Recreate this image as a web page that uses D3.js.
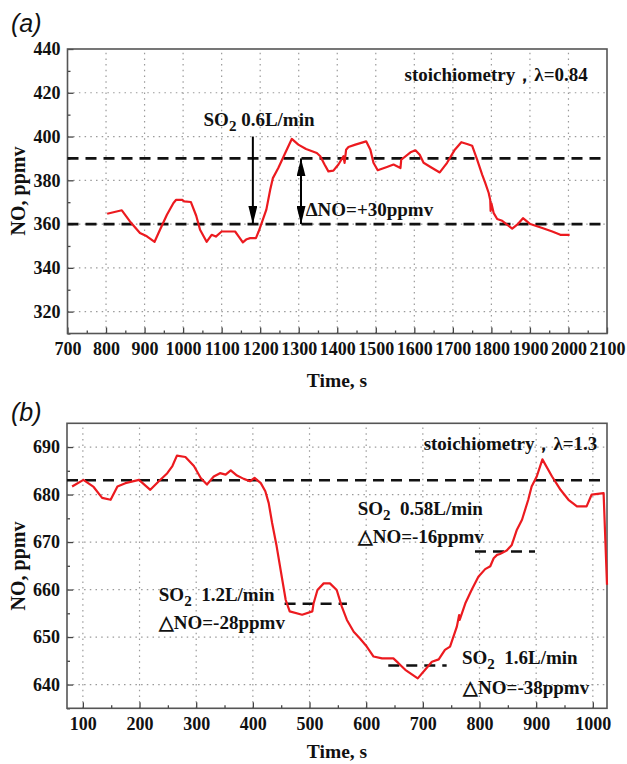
<!DOCTYPE html>
<html>
<head>
<meta charset="utf-8">
<script src="https://cdn.jsdelivr.net/npm/d3@7"></script>
<style>
  body { margin: 0; background: #fff; }
  svg text { font-family: "Liberation Serif", "Times New Roman", serif; font-weight: bold; fill: #111; }
</style>
</head>
<body>
<div id="chart"></div>
<script>
// panel (a): stoichiometry 0.84, SO2 0.6 L/min
const timeA = [803, 841, 862, 888, 906, 926, 940, 958, 975, 982, 997, 1003, 1020, 1034, 1044, 1061, 1074, 1085, 1100, 1135,
  1144, 1155, 1165, 1174, 1189, 1196, 1204, 1216, 1226, 1233, 1247, 1265, 1282, 1299, 1319, 1347, 1356, 1367, 1377, 1390,
  1403, 1416, 1419, 1423, 1429, 1447, 1475, 1486, 1494, 1505, 1529, 1546, 1564, 1566, 1590, 1603, 1614, 1624, 1642, 1666,
  1685, 1704, 1722, 1737, 1750, 1763, 1776, 1784, 1793, 1797, 1798, 1800, 1806, 1815, 1828, 1854, 1867, 1882, 1901, 1932,
  1958, 1979, 2003];
const noA = [364.7, 366.3, 361.2, 355.9, 354.4, 351.9, 357.4, 364.3, 369.6, 371.1, 371.1, 370.4, 370.1, 363.8, 357.4, 351.9, 355.1, 354.3, 356.6, 356.6,
  354.4, 351.6, 353.1, 353.6, 353.6, 356.6, 360.5, 366.6, 375.7, 381, 385.6, 392.5, 398.9, 396.3, 394.3, 392.5, 391, 387.2, 384.1, 384.4,
  387.2, 391, 388, 394, 395.2, 396.3, 397.8, 394, 388, 384.6, 386.1, 387.2, 385.6, 389.4, 392.8, 393.7, 391.7, 388, 386.1, 383.6,
  388, 393.7, 397.4, 396.6, 395.8, 389.4, 382.6, 378.8, 374.2, 371, 366, 369.5, 365, 362.3, 361.5, 357.9, 359.7, 362.7, 360, 358.2,
  356.6, 355.1, 355.1];

// panel (b): stoichiometry 1.3, three SO2 flows
const timeB = [81, 101, 119, 134, 149, 161, 175, 199, 219, 234, 249, 258, 266, 281, 296, 308, 319, 331, 342, 352,
  361, 372, 384, 395, 403, 414, 422, 428, 434, 442, 452, 458, 465, 487, 505, 507, 514, 525, 536, 548,
  557, 566, 578, 589, 601, 613, 628, 648, 657, 669, 691, 704, 716, 728, 739, 748, 760, 764, 765, 775,
  786, 798, 810, 819, 825, 831, 836, 848, 857, 866, 875, 886, 892, 901, 911, 928, 943, 957, 972, 989,
  998, 1019, 1025];
const noB = [681.7, 683.1, 681.6, 679.3, 678.9, 681.7, 682.4, 683.1, 681, 682.8, 684.5, 686, 688.2, 687.9, 686, 683.5, 682.1, 683.8, 684.5, 684.2,
  685.1, 684, 683.3, 682.8, 683.5, 682.4, 680.7, 678.2, 674, 669.1, 662, 657.8, 655.4, 654.7, 655.4, 657, 659.9, 661.3, 661.3, 659.9,
  656.4, 653.6, 651.1, 649.7, 648, 645.9, 645.5, 645.5, 644.5, 643.1, 641.3, 643.1, 644.8, 645.3, 647.3, 648, 652.2, 654.6, 653.6, 657.1,
  659.9, 662.7, 664.3, 664.9, 666.6, 667.3, 667.5, 668.2, 669.4, 672.6, 674.7, 678.9, 681.7, 683.8, 687.4, 683.8, 681, 678.9, 677.5, 677.5,
  680, 680.3, 661];

const xTicksA = d3.range(700, 2101, 100);
const yTicksA = [320, 340, 360, 380, 400, 420, 440];
const xTicksB = d3.range(100, 1001, 100);
const yTicksB = [640, 650, 660, 670, 680, 690];

// reference levels
const levelsA = [390, 360];
const levelsB = [683];
const segmentsB = [
  { v: 657, t0: 456, t1: 566 },
  { v: 644, t0: 639, t1: 742 },
  { v: 668, t0: 792, t1: 898 }
];

const width = 627, height = 764;
const svg = d3.select("#chart").append("svg")
  .attr("width", width).attr("height", height);

svg.append("defs").append("marker")
  .attr("id", "head")
  .attr("viewBox", "0 0 18 9")
  .attr("refX", 18).attr("refY", 4.5)
  .attr("markerWidth", 18).attr("markerHeight", 9)
  .attr("markerUnits", "userSpaceOnUse")
  .attr("orient", "auto-start-reverse")
  .append("path").attr("d", "M0,0L18,4.5L0,9Z").attr("fill", "#000");

function panel(x, y, xTicks, yTicks, xMinor, yMinor) {
  const g = svg.append("g");
  const [x0, x1] = x.range(), [y0, y1] = y.range();

  // dotted grid
  g.append("g").selectAll("line")
    .data(xTicks.filter(d => x(d) > x0 + 1 && x(d) < x1 - 1))
    .join("line")
    .attr("x1", d => x(d)).attr("x2", d => x(d))
    .attr("y1", y0).attr("y2", y1)
    .attr("stroke", "#9a9a9a").attr("stroke-width", 1.2).attr("stroke-dasharray", "1.5,4.2");
  g.append("g").selectAll("line")
    .data(yTicks.filter(d => y(d) < y0 - 1 && y(d) > y1 + 1))
    .join("line")
    .attr("y1", d => y(d)).attr("y2", d => y(d))
    .attr("x1", x0).attr("x2", x1)
    .attr("stroke", "#9a9a9a").attr("stroke-width", 1.2).attr("stroke-dasharray", "1.5,4.2");

  g.append("g").attr("transform", `translate(0,${y0})`)
    .call(d3.axisBottom(x).tickValues(xTicks).tickSize(-6).tickPadding(9).tickFormat(d3.format("d")));
  g.append("g").attr("transform", `translate(0,${y0})`)
    .call(d3.axisBottom(x).tickValues(xMinor).tickSize(-3).tickFormat(""));
  g.append("g").attr("transform", `translate(${x0},0)`)
    .call(d3.axisLeft(y).tickValues(yTicks).tickSize(-6).tickPadding(7).tickFormat(d3.format("d")));
  g.append("g").attr("transform", `translate(${x0},0)`)
    .call(d3.axisLeft(y).tickValues(yMinor).tickSize(-3).tickFormat(""));

  g.selectAll(".domain").remove();
  g.selectAll(".tick line").attr("stroke", "#444").attr("stroke-width", 1.3);
  g.selectAll(".tick text").attr("font-size", 18).attr("fill", "#111")
    .attr("font-family", "Liberation Serif, Times New Roman, serif").attr("font-weight", "bold");

  g.append("rect")
    .attr("x", x0).attr("y", y1)
    .attr("width", x1 - x0).attr("height", y0 - y1)
    .attr("fill", "none").attr("stroke", "#555").attr("stroke-width", 1.6);
  return g;
}

function dashed(g, x, y, v, t0, t1) {
  g.append("line")
    .attr("x1", x(t0)).attr("x2", x(t1))
    .attr("y1", y(v)).attr("y2", y(v))
    .attr("stroke", "#111").attr("stroke-width", 2.6).attr("stroke-dasharray", "11,7");
}

function so2(g, px, py, rate) {
  const t = g.append("text").attr("x", px).attr("y", py).attr("font-size", 19);
  t.append("tspan").text("SO");
  t.append("tspan").attr("dy", 5).attr("font-size", 15).text("2");
  t.append("tspan").attr("dy", -5).text("\u00a0" + rate);
}

function line(g, x, y, ts, vs) {
  g.append("path")
    .datum(ts.map((t, i) => [t, vs[i]]))
    .attr("fill", "none").attr("stroke", "#ec1a1f").attr("stroke-width", 2.2)
    .attr("stroke-linejoin", "round")
    .attr("d", d3.line().x(d => x(d[0])).y(d => y(d[1])));
}

// ---------- (a)
const xA = d3.scaleLinear([700, 2100], [67.5, 607]);
const yA = d3.scaleLinear([310, 440], [333.5, 49]);
const gA = panel(xA, yA, xTicksA, yTicksA, d3.range(750, 2100, 100), d3.range(310, 440, 20));

levelsA.forEach(v => dashed(gA, xA, yA, v, 700, 2100));
line(gA, xA, yA, timeA, noA);

gA.append("line")
  .attr("x1", xA(1181)).attr("x2", xA(1181))
  .attr("y1", yA(400)).attr("y2", yA(360))
  .attr("stroke", "#000").attr("stroke-width", 2)
  .attr("marker-end", "url(#head)");
gA.append("line")
  .attr("x1", xA(1306)).attr("x2", xA(1306))
  .attr("y1", yA(390)).attr("y2", yA(360))
  .attr("stroke", "#000").attr("stroke-width", 2)
  .attr("marker-start", "url(#head)").attr("marker-end", "url(#head)");

gA.append("text").attr("x", xA(2050)).attr("y", yA(425.2))
  .attr("text-anchor", "end").attr("font-size", 19)
  .text("stoichiometry，λ=0.84");
so2(gA, xA(1053), yA(404.8), "0.6L/min");
gA.append("text").attr("x", xA(1318)).attr("y", yA(363.8)).attr("font-size", 19)
  .text("ΔNO=+30ppmv");

// ---------- (b)
const xB = d3.scaleLinear([72, 1025], [67, 607]);
const yB = d3.scaleLinear([635, 695], [708.3, 423.3]);
const gB = panel(xB, yB, xTicksB, yTicksB, d3.range(150, 1025, 100), d3.range(635, 695, 10));

levelsB.forEach(v => dashed(gB, xB, yB, v, 72, 1025));
segmentsB.forEach(s => dashed(gB, xB, yB, s.v, s.t0, s.t1));
line(gB, xB, yB, timeB, noB);

gB.append("text").attr("x", xB(1008)).attr("y", yB(689.3))
  .attr("text-anchor", "end").attr("font-size", 19)
  .text("stoichiometry，λ=1.3");
so2(gB, xB(585), yB(675.8), "\u00a00.58L/min");
gB.append("text").attr("x", xB(585)).attr("y", yB(669.8)).attr("font-size", 19).text("△NO=-16ppmv");
so2(gB, xB(234), yB(657.6), "\u00a01.2L/min");
gB.append("text").attr("x", xB(234)).attr("y", yB(651.6)).attr("font-size", 19).text("△NO=-28ppmv");
so2(gB, xB(769), yB(644.4), "\u00a01.6L/min");
gB.append("text").attr("x", xB(771)).attr("y", yB(638)).attr("font-size", 19).text("△NO=-38ppmv");

// ---------- panel letters and axis titles
[["(a)", 32], ["(b)", 421]].forEach(([s, py]) => {
  svg.append("text").attr("x", 11).attr("y", py)
    .style("font-family", "Liberation Sans, Arial, sans-serif")
    .style("font-weight", "normal").style("font-style", "italic")
    .attr("font-size", 25).text(s);
});
[[387, 191], [758, 566]].forEach(([ty, cy]) => {
  svg.append("text").attr("x", 337).attr("y", ty)
    .attr("text-anchor", "middle").attr("font-size", 19.5).text("Time, s");
  svg.append("text").attr("transform", `translate(25,${cy}) rotate(-90)`)
    .attr("text-anchor", "middle").attr("font-size", 20).text("NO, ppmv");
});
</script>
</body>
</html>
